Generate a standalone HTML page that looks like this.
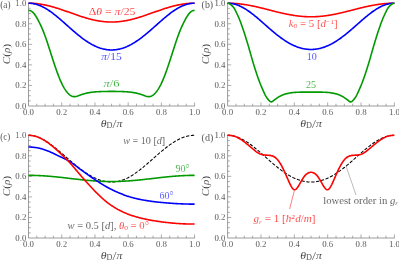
<!DOCTYPE html>
<html><head><meta charset="utf-8"><title>plot</title>
<style>
html,body{margin:0;padding:0;background:#fff;}
svg{display:block;will-change:transform;}
text{font-family:"Liberation Serif",serif;stroke:#fff;stroke-width:0.15px;}
.tk{font-size:8.8px;fill:#1c1c1c;}
.al{font-size:11.2px;fill:#1c1c1c;}
.pl{font-size:9.3px;fill:#1c1c1c;}
.lb{font-size:10px;stroke-width:0.2px;}
.it{font-style:italic;}
.sub{font-size:70%;}
</style></head><body>
<svg width="399" height="261" viewBox="0 0 399 261">
<rect width="399" height="261" fill="#fff"/>
<path d="M28.5,2.9000000000000004 V106.0 H194.9" fill="none" stroke="#7c7c7c" stroke-width="0.75"/>
<path d="M36.80,106.0 v-2.3 M28.5,100.86 h2.3 M45.11,106.0 v-2.3 M28.5,95.72 h2.3 M53.41,106.0 v-2.3 M28.5,90.58 h2.3 M61.72,106.0 v-3.6 M28.5,85.44 h3.6 M70.03,106.0 v-2.3 M28.5,80.30 h2.3 M78.33,106.0 v-2.3 M28.5,75.16 h2.3 M86.63,106.0 v-2.3 M28.5,70.02 h2.3 M94.94,106.0 v-3.6 M28.5,64.88 h3.6 M103.25,106.0 v-2.3 M28.5,59.74 h2.3 M111.55,106.0 v-2.3 M28.5,54.60 h2.3 M119.86,106.0 v-2.3 M28.5,49.46 h2.3 M128.16,106.0 v-3.6 M28.5,44.32 h3.6 M136.47,106.0 v-2.3 M28.5,39.18 h2.3 M144.77,106.0 v-2.3 M28.5,34.04 h2.3 M153.07,106.0 v-2.3 M28.5,28.90 h2.3 M161.38,106.0 v-3.6 M28.5,23.76 h3.6 M169.69,106.0 v-2.3 M28.5,18.62 h2.3 M177.99,106.0 v-2.3 M28.5,13.48 h2.3 M186.29,106.0 v-2.3 M28.5,8.34 h2.3 M194.60,106.0 v-3.6 M28.5,3.20 h3.6 " fill="none" stroke="#7c7c7c" stroke-width="0.62"/>
<text x="28.50" y="115.10" text-anchor="middle" class="tk">0.0</text>
<text x="26.30" y="108.75" text-anchor="end" class="tk">0.0</text>
<text x="61.72" y="115.10" text-anchor="middle" class="tk">0.2</text>
<text x="26.30" y="88.19" text-anchor="end" class="tk">0.2</text>
<text x="94.94" y="115.10" text-anchor="middle" class="tk">0.4</text>
<text x="26.30" y="67.63" text-anchor="end" class="tk">0.4</text>
<text x="128.16" y="115.10" text-anchor="middle" class="tk">0.6</text>
<text x="26.30" y="47.07" text-anchor="end" class="tk">0.6</text>
<text x="161.38" y="115.10" text-anchor="middle" class="tk">0.8</text>
<text x="26.30" y="26.51" text-anchor="end" class="tk">0.8</text>
<text x="194.60" y="115.10" text-anchor="middle" class="tk">1.0</text>
<text x="26.30" y="5.95" text-anchor="end" class="tk">1.0</text>
<text x="111.55" y="126.50" text-anchor="middle" class="al" textLength="21.6" lengthAdjust="spacingAndGlyphs"><tspan class="it">θ</tspan><tspan class="sub" dy="1.6">D</tspan><tspan dy="-0.4" font-size="13.5">/</tspan><tspan dy="-1.2" class="it">π</tspan></text>
<text transform="translate(9.60,54.10) rotate(-90)" text-anchor="middle" class="al"><tspan class="it">C</tspan>(<tspan class="it">ρ</tspan>)</text>
<path d="M28.50,3.20 L29.19,3.20 L29.88,3.21 L30.58,3.23 L31.27,3.25 L31.96,3.28 L32.65,3.32 L33.34,3.36 L34.04,3.41 L34.73,3.46 L35.42,3.52 L36.11,3.59 L36.80,3.66 L37.50,3.74 L38.19,3.82 L38.88,3.92 L39.57,4.01 L40.27,4.12 L40.96,4.23 L41.65,4.34 L42.34,4.46 L43.03,4.59 L43.73,4.72 L44.42,4.85 L45.11,5.00 L45.80,5.14 L46.49,5.30 L47.19,5.45 L47.88,5.62 L48.57,5.78 L49.26,5.96 L49.95,6.13 L50.65,6.31 L51.34,6.50 L52.03,6.69 L52.72,6.88 L53.41,7.08 L54.11,7.28 L54.80,7.48 L55.49,7.69 L56.18,7.90 L56.88,8.12 L57.57,8.34 L58.26,8.56 L58.95,8.78 L59.64,9.01 L60.34,9.24 L61.03,9.47 L61.72,9.70 L62.41,9.93 L63.10,10.17 L63.80,10.41 L64.49,10.65 L65.18,10.89 L65.87,11.13 L66.56,11.38 L67.26,11.62 L67.95,11.87 L68.64,12.11 L69.33,12.36 L70.03,12.61 L70.72,12.85 L71.41,13.10 L72.10,13.34 L72.79,13.59 L73.49,13.83 L74.18,14.08 L74.87,14.32 L75.56,14.56 L76.25,14.80 L76.95,15.04 L77.64,15.28 L78.33,15.51 L79.02,15.75 L79.71,15.98 L80.41,16.21 L81.10,16.43 L81.79,16.66 L82.48,16.88 L83.17,17.09 L83.87,17.31 L84.56,17.52 L85.25,17.73 L85.94,17.93 L86.63,18.14 L87.33,18.33 L88.02,18.53 L88.71,18.72 L89.40,18.90 L90.10,19.08 L90.79,19.26 L91.48,19.43 L92.17,19.60 L92.86,19.76 L93.56,19.92 L94.25,20.07 L94.94,20.22 L95.63,20.36 L96.32,20.49 L97.02,20.63 L97.71,20.75 L98.40,20.87 L99.09,20.99 L99.78,21.10 L100.48,21.20 L101.17,21.30 L101.86,21.39 L102.55,21.47 L103.25,21.55 L103.94,21.63 L104.63,21.69 L105.32,21.75 L106.01,21.81 L106.71,21.85 L107.40,21.90 L108.09,21.93 L108.78,21.96 L109.47,21.98 L110.17,22.00 L110.86,22.01 L111.55,22.01 L112.24,22.01 L112.93,22.00 L113.63,21.98 L114.32,21.96 L115.01,21.93 L115.70,21.90 L116.39,21.85 L117.09,21.81 L117.78,21.75 L118.47,21.69 L119.16,21.63 L119.86,21.55 L120.55,21.47 L121.24,21.39 L121.93,21.30 L122.62,21.20 L123.32,21.10 L124.01,20.99 L124.70,20.87 L125.39,20.75 L126.08,20.63 L126.78,20.49 L127.47,20.36 L128.16,20.22 L128.85,20.07 L129.54,19.92 L130.24,19.76 L130.93,19.60 L131.62,19.43 L132.31,19.26 L133.00,19.08 L133.70,18.90 L134.39,18.72 L135.08,18.53 L135.77,18.33 L136.47,18.14 L137.16,17.93 L137.85,17.73 L138.54,17.52 L139.23,17.31 L139.93,17.09 L140.62,16.88 L141.31,16.66 L142.00,16.43 L142.69,16.21 L143.39,15.98 L144.08,15.75 L144.77,15.51 L145.46,15.28 L146.15,15.04 L146.85,14.80 L147.54,14.56 L148.23,14.32 L148.92,14.08 L149.61,13.83 L150.31,13.59 L151.00,13.34 L151.69,13.10 L152.38,12.85 L153.07,12.61 L153.77,12.36 L154.46,12.11 L155.15,11.87 L155.84,11.62 L156.54,11.38 L157.23,11.13 L157.92,10.89 L158.61,10.65 L159.30,10.41 L160.00,10.17 L160.69,9.93 L161.38,9.70 L162.07,9.47 L162.76,9.24 L163.46,9.01 L164.15,8.78 L164.84,8.56 L165.53,8.34 L166.22,8.12 L166.92,7.90 L167.61,7.69 L168.30,7.48 L168.99,7.28 L169.69,7.08 L170.38,6.88 L171.07,6.69 L171.76,6.50 L172.45,6.31 L173.15,6.13 L173.84,5.96 L174.53,5.78 L175.22,5.62 L175.91,5.45 L176.61,5.30 L177.30,5.14 L177.99,5.00 L178.68,4.85 L179.37,4.72 L180.07,4.59 L180.76,4.46 L181.45,4.34 L182.14,4.23 L182.83,4.12 L183.53,4.01 L184.22,3.92 L184.91,3.82 L185.60,3.74 L186.29,3.66 L186.99,3.59 L187.68,3.52 L188.37,3.46 L189.06,3.41 L189.76,3.36 L190.45,3.32 L191.14,3.28 L191.83,3.25 L192.52,3.23 L193.22,3.21 L193.91,3.20 L194.60,3.20" fill="none" stroke="#ff0000" stroke-width="1.6" stroke-linejoin="round" stroke-linecap="butt"/>
<path d="M28.50,3.20 L29.19,3.21 L29.88,3.24 L30.58,3.28 L31.27,3.34 L31.96,3.42 L32.65,3.52 L33.34,3.64 L34.04,3.77 L34.73,3.92 L35.42,4.09 L36.11,4.28 L36.80,4.48 L37.50,4.70 L38.19,4.93 L38.88,5.19 L39.57,5.45 L40.27,5.74 L40.96,6.04 L41.65,6.35 L42.34,6.68 L43.03,7.03 L43.73,7.39 L44.42,7.76 L45.11,8.15 L45.80,8.55 L46.49,8.97 L47.19,9.40 L47.88,9.84 L48.57,10.29 L49.26,10.75 L49.95,11.23 L50.65,11.71 L51.34,12.21 L52.03,12.72 L52.72,13.23 L53.41,13.76 L54.11,14.29 L54.80,14.84 L55.49,15.39 L56.18,15.95 L56.88,16.51 L57.57,17.08 L58.26,17.66 L58.95,18.25 L59.64,18.83 L60.34,19.43 L61.03,20.03 L61.72,20.63 L62.41,21.23 L63.10,21.84 L63.80,22.45 L64.49,23.07 L65.18,23.68 L65.87,24.30 L66.56,24.91 L67.26,25.53 L67.95,26.15 L68.64,26.76 L69.33,27.38 L70.03,27.99 L70.72,28.60 L71.41,29.21 L72.10,29.82 L72.79,30.42 L73.49,31.02 L74.18,31.61 L74.87,32.21 L75.56,32.79 L76.25,33.37 L76.95,33.95 L77.64,34.52 L78.33,35.08 L79.02,35.64 L79.71,36.19 L80.41,36.73 L81.10,37.27 L81.79,37.80 L82.48,38.32 L83.17,38.83 L83.87,39.33 L84.56,39.83 L85.25,40.31 L85.94,40.79 L86.63,41.25 L87.33,41.71 L88.02,42.15 L88.71,42.59 L89.40,43.01 L90.10,43.42 L90.79,43.83 L91.48,44.22 L92.17,44.60 L92.86,44.96 L93.56,45.32 L94.25,45.66 L94.94,45.99 L95.63,46.31 L96.32,46.62 L97.02,46.91 L97.71,47.19 L98.40,47.46 L99.09,47.71 L99.78,47.96 L100.48,48.18 L101.17,48.40 L101.86,48.60 L102.55,48.79 L103.25,48.96 L103.94,49.12 L104.63,49.27 L105.32,49.40 L106.01,49.52 L106.71,49.63 L107.40,49.72 L108.09,49.80 L108.78,49.86 L109.47,49.91 L110.17,49.95 L110.86,49.97 L111.55,49.97 L112.24,49.97 L112.93,49.95 L113.63,49.91 L114.32,49.86 L115.01,49.80 L115.70,49.72 L116.39,49.63 L117.09,49.52 L117.78,49.40 L118.47,49.27 L119.16,49.12 L119.86,48.96 L120.55,48.79 L121.24,48.60 L121.93,48.40 L122.62,48.18 L123.32,47.96 L124.01,47.71 L124.70,47.46 L125.39,47.19 L126.08,46.91 L126.78,46.62 L127.47,46.31 L128.16,45.99 L128.85,45.66 L129.54,45.32 L130.24,44.96 L130.93,44.60 L131.62,44.22 L132.31,43.83 L133.00,43.42 L133.70,43.01 L134.39,42.59 L135.08,42.15 L135.77,41.71 L136.47,41.25 L137.16,40.79 L137.85,40.31 L138.54,39.83 L139.23,39.33 L139.93,38.83 L140.62,38.32 L141.31,37.80 L142.00,37.27 L142.69,36.73 L143.39,36.19 L144.08,35.64 L144.77,35.08 L145.46,34.52 L146.15,33.95 L146.85,33.37 L147.54,32.79 L148.23,32.21 L148.92,31.61 L149.61,31.02 L150.31,30.42 L151.00,29.82 L151.69,29.21 L152.38,28.60 L153.07,27.99 L153.77,27.38 L154.46,26.76 L155.15,26.15 L155.84,25.53 L156.54,24.91 L157.23,24.30 L157.92,23.68 L158.61,23.07 L159.30,22.45 L160.00,21.84 L160.69,21.23 L161.38,20.63 L162.07,20.03 L162.76,19.43 L163.46,18.83 L164.15,18.25 L164.84,17.66 L165.53,17.08 L166.22,16.51 L166.92,15.95 L167.61,15.39 L168.30,14.84 L168.99,14.29 L169.69,13.76 L170.38,13.23 L171.07,12.72 L171.76,12.21 L172.45,11.71 L173.15,11.23 L173.84,10.75 L174.53,10.29 L175.22,9.84 L175.91,9.40 L176.61,8.97 L177.30,8.55 L177.99,8.15 L178.68,7.76 L179.37,7.39 L180.07,7.03 L180.76,6.68 L181.45,6.35 L182.14,6.04 L182.83,5.74 L183.53,5.45 L184.22,5.19 L184.91,4.93 L185.60,4.70 L186.29,4.48 L186.99,4.28 L187.68,4.09 L188.37,3.92 L189.06,3.77 L189.76,3.64 L190.45,3.52 L191.14,3.42 L191.83,3.34 L192.52,3.28 L193.22,3.24 L193.91,3.21 L194.60,3.20" fill="none" stroke="#0000ff" stroke-width="1.6" stroke-linejoin="round" stroke-linecap="butt"/>
<path d="M28.50,10.40 L29.19,10.44 L29.88,10.58 L30.58,10.82 L31.27,11.15 L31.96,11.60 L32.65,12.15 L33.34,12.82 L34.04,13.60 L34.73,14.50 L35.42,15.50 L36.11,16.58 L36.80,17.75 L37.50,18.99 L38.19,20.28 L38.88,21.62 L39.57,23.00 L40.27,24.42 L40.96,25.89 L41.65,27.41 L42.34,28.99 L43.03,30.65 L43.73,32.38 L44.42,34.19 L45.11,36.07 L45.80,38.02 L46.49,40.03 L47.19,42.08 L47.88,44.17 L48.57,46.29 L49.26,48.43 L49.95,50.59 L50.65,52.76 L51.34,54.93 L52.03,57.09 L52.72,59.24 L53.41,61.37 L54.11,63.47 L54.80,65.54 L55.49,67.57 L56.18,69.55 L56.88,71.49 L57.57,73.38 L58.26,75.21 L58.95,76.98 L59.64,78.68 L60.34,80.32 L61.03,81.89 L61.72,83.38 L62.41,84.80 L63.10,86.13 L63.80,87.39 L64.49,88.56 L65.18,89.65 L65.87,90.67 L66.56,91.61 L67.26,92.46 L67.95,93.24 L68.64,93.93 L69.33,94.55 L70.03,95.09 L70.72,95.54 L71.41,95.92 L72.10,96.22 L72.79,96.44 L73.49,96.59 L74.18,96.65 L74.87,96.65 L75.56,96.57 L76.25,96.44 L76.95,96.27 L77.64,96.06 L78.33,95.82 L79.02,95.57 L79.71,95.31 L80.41,95.05 L81.10,94.80 L81.79,94.56 L82.48,94.33 L83.17,94.11 L83.87,93.89 L84.56,93.69 L85.25,93.50 L85.94,93.32 L86.63,93.15 L87.33,92.99 L88.02,92.85 L88.71,92.72 L89.40,92.59 L90.10,92.48 L90.79,92.38 L91.48,92.28 L92.17,92.19 L92.86,92.11 L93.56,92.04 L94.25,91.98 L94.94,91.92 L95.63,91.86 L96.32,91.81 L97.02,91.76 L97.71,91.72 L98.40,91.69 L99.09,91.65 L99.78,91.62 L100.48,91.59 L101.17,91.57 L101.86,91.54 L102.55,91.52 L103.25,91.51 L103.94,91.49 L104.63,91.47 L105.32,91.46 L106.01,91.45 L106.71,91.44 L107.40,91.43 L108.09,91.42 L108.78,91.41 L109.47,91.41 L110.17,91.41 L110.86,91.40 L111.55,91.40 L112.24,91.40 L112.93,91.41 L113.63,91.41 L114.32,91.41 L115.01,91.42 L115.70,91.43 L116.39,91.44 L117.09,91.45 L117.78,91.46 L118.47,91.47 L119.16,91.49 L119.86,91.51 L120.55,91.52 L121.24,91.54 L121.93,91.57 L122.62,91.59 L123.32,91.62 L124.01,91.65 L124.70,91.69 L125.39,91.72 L126.08,91.76 L126.78,91.81 L127.47,91.86 L128.16,91.92 L128.85,91.98 L129.54,92.04 L130.24,92.11 L130.93,92.19 L131.62,92.28 L132.31,92.38 L133.00,92.48 L133.70,92.59 L134.39,92.72 L135.08,92.85 L135.77,92.99 L136.47,93.15 L137.16,93.32 L137.85,93.50 L138.54,93.69 L139.23,93.89 L139.93,94.11 L140.62,94.33 L141.31,94.56 L142.00,94.80 L142.69,95.05 L143.39,95.31 L144.08,95.57 L144.77,95.82 L145.46,96.06 L146.15,96.27 L146.85,96.44 L147.54,96.57 L148.23,96.65 L148.92,96.65 L149.61,96.59 L150.31,96.44 L151.00,96.22 L151.69,95.92 L152.38,95.54 L153.07,95.09 L153.77,94.55 L154.46,93.93 L155.15,93.24 L155.84,92.46 L156.54,91.61 L157.23,90.67 L157.92,89.65 L158.61,88.56 L159.30,87.39 L160.00,86.13 L160.69,84.80 L161.38,83.38 L162.07,81.89 L162.76,80.32 L163.46,78.68 L164.15,76.98 L164.84,75.21 L165.53,73.38 L166.22,71.49 L166.92,69.55 L167.61,67.57 L168.30,65.54 L168.99,63.47 L169.69,61.37 L170.38,59.24 L171.07,57.09 L171.76,54.93 L172.45,52.76 L173.15,50.59 L173.84,48.43 L174.53,46.29 L175.22,44.17 L175.91,42.08 L176.61,40.03 L177.30,38.02 L177.99,36.07 L178.68,34.19 L179.37,32.38 L180.07,30.65 L180.76,28.99 L181.45,27.41 L182.14,25.89 L182.83,24.42 L183.53,23.00 L184.22,21.62 L184.91,20.28 L185.60,18.99 L186.29,17.75 L186.99,16.58 L187.68,15.50 L188.37,14.50 L189.06,13.60 L189.76,12.82 L190.45,12.15 L191.14,11.60 L191.83,11.15 L192.52,10.82 L193.22,10.58 L193.91,10.44 L194.60,10.40" fill="none" stroke="#009a00" stroke-width="1.6" stroke-linejoin="round" stroke-linecap="butt"/>
<text x="0.3" y="8.3" class="pl" textLength="10.2" lengthAdjust="spacingAndGlyphs">(a)</text>
<text x="88.7" y="15.3" textLength="46.8" lengthAdjust="spacingAndGlyphs" class="lb" fill="#ff0000">Δ<tspan class="it">θ</tspan> = <tspan class="it">π</tspan>/25</text>
<text x="101.3" y="60.3" textLength="20.5" lengthAdjust="spacingAndGlyphs" class="lb" fill="#0000ff"><tspan class="it">π</tspan>/15</text>
<text x="103.6" y="86.6" textLength="15.9" lengthAdjust="spacingAndGlyphs" class="lb" fill="#009a00"><tspan class="it">π</tspan>/6</text>
<path d="M227.6,2.9000000000000004 V106.0 H394.7" fill="none" stroke="#7c7c7c" stroke-width="0.75"/>
<path d="M235.94,106.0 v-2.3 M227.6,100.86 h2.3 M244.28,106.0 v-2.3 M227.6,95.72 h2.3 M252.62,106.0 v-2.3 M227.6,90.58 h2.3 M260.96,106.0 v-3.6 M227.6,85.44 h3.6 M269.30,106.0 v-2.3 M227.6,80.30 h2.3 M277.64,106.0 v-2.3 M227.6,75.16 h2.3 M285.98,106.0 v-2.3 M227.6,70.02 h2.3 M294.32,106.0 v-3.6 M227.6,64.88 h3.6 M302.66,106.0 v-2.3 M227.6,59.74 h2.3 M311.00,106.0 v-2.3 M227.6,54.60 h2.3 M319.34,106.0 v-2.3 M227.6,49.46 h2.3 M327.68,106.0 v-3.6 M227.6,44.32 h3.6 M336.02,106.0 v-2.3 M227.6,39.18 h2.3 M344.36,106.0 v-2.3 M227.6,34.04 h2.3 M352.70,106.0 v-2.3 M227.6,28.90 h2.3 M361.04,106.0 v-3.6 M227.6,23.76 h3.6 M369.38,106.0 v-2.3 M227.6,18.62 h2.3 M377.72,106.0 v-2.3 M227.6,13.48 h2.3 M386.06,106.0 v-2.3 M227.6,8.34 h2.3 M394.40,106.0 v-3.6 M227.6,3.20 h3.6 " fill="none" stroke="#7c7c7c" stroke-width="0.62"/>
<text x="227.60" y="115.10" text-anchor="middle" class="tk">0.0</text>
<text x="225.40" y="108.75" text-anchor="end" class="tk">0.0</text>
<text x="260.96" y="115.10" text-anchor="middle" class="tk">0.2</text>
<text x="225.40" y="88.19" text-anchor="end" class="tk">0.2</text>
<text x="294.32" y="115.10" text-anchor="middle" class="tk">0.4</text>
<text x="225.40" y="67.63" text-anchor="end" class="tk">0.4</text>
<text x="327.68" y="115.10" text-anchor="middle" class="tk">0.6</text>
<text x="225.40" y="47.07" text-anchor="end" class="tk">0.6</text>
<text x="361.04" y="115.10" text-anchor="middle" class="tk">0.8</text>
<text x="225.40" y="26.51" text-anchor="end" class="tk">0.8</text>
<text x="394.40" y="115.10" text-anchor="middle" class="tk">1.0</text>
<text x="225.40" y="5.95" text-anchor="end" class="tk">1.0</text>
<text x="311.00" y="126.50" text-anchor="middle" class="al" textLength="21.6" lengthAdjust="spacingAndGlyphs"><tspan class="it">θ</tspan><tspan class="sub" dy="1.6">D</tspan><tspan dy="-0.4" font-size="13.5">/</tspan><tspan dy="-1.2" class="it">π</tspan></text>
<text transform="translate(208.70,54.10) rotate(-90)" text-anchor="middle" class="al"><tspan class="it">C</tspan>(<tspan class="it">ρ</tspan>)</text>
<path d="M227.60,3.20 L228.29,3.20 L228.99,3.21 L229.69,3.22 L230.38,3.24 L231.07,3.26 L231.77,3.28 L232.47,3.31 L233.16,3.35 L233.85,3.39 L234.55,3.43 L235.25,3.48 L235.94,3.53 L236.63,3.59 L237.33,3.65 L238.03,3.72 L238.72,3.79 L239.41,3.86 L240.11,3.94 L240.81,4.02 L241.50,4.11 L242.19,4.20 L242.89,4.29 L243.58,4.39 L244.28,4.50 L244.97,4.60 L245.67,4.71 L246.36,4.83 L247.06,4.94 L247.75,5.06 L248.45,5.19 L249.14,5.31 L249.84,5.44 L250.53,5.58 L251.23,5.71 L251.92,5.85 L252.62,6.00 L253.31,6.14 L254.01,6.29 L254.70,6.44 L255.40,6.59 L256.09,6.75 L256.79,6.90 L257.49,7.06 L258.18,7.23 L258.88,7.39 L259.57,7.55 L260.26,7.72 L260.96,7.89 L261.65,8.06 L262.35,8.23 L263.04,8.40 L263.74,8.57 L264.44,8.75 L265.13,8.92 L265.82,9.10 L266.52,9.28 L267.21,9.45 L267.91,9.63 L268.61,9.81 L269.30,9.98 L270.00,10.16 L270.69,10.34 L271.38,10.52 L272.08,10.69 L272.77,10.87 L273.47,11.05 L274.16,11.22 L274.86,11.40 L275.56,11.57 L276.25,11.74 L276.94,11.91 L277.64,12.08 L278.33,12.25 L279.03,12.42 L279.72,12.58 L280.42,12.74 L281.12,12.91 L281.81,13.07 L282.50,13.22 L283.20,13.38 L283.89,13.53 L284.59,13.68 L285.28,13.83 L285.98,13.97 L286.68,14.12 L287.37,14.25 L288.06,14.39 L288.76,14.52 L289.45,14.66 L290.15,14.78 L290.84,14.91 L291.54,15.03 L292.24,15.14 L292.93,15.26 L293.62,15.37 L294.32,15.47 L295.01,15.58 L295.71,15.68 L296.40,15.77 L297.10,15.86 L297.79,15.95 L298.49,16.03 L299.19,16.11 L299.88,16.18 L300.57,16.25 L301.27,16.32 L301.96,16.38 L302.66,16.44 L303.36,16.49 L304.05,16.54 L304.75,16.58 L305.44,16.62 L306.13,16.66 L306.83,16.69 L307.52,16.71 L308.22,16.73 L308.91,16.75 L309.61,16.76 L310.31,16.77 L311.00,16.77 L311.69,16.77 L312.39,16.76 L313.08,16.75 L313.78,16.73 L314.48,16.71 L315.17,16.69 L315.87,16.66 L316.56,16.62 L317.25,16.58 L317.95,16.54 L318.64,16.49 L319.34,16.44 L320.03,16.38 L320.73,16.32 L321.42,16.25 L322.12,16.18 L322.81,16.11 L323.51,16.03 L324.20,15.95 L324.90,15.86 L325.59,15.77 L326.29,15.68 L326.99,15.58 L327.68,15.47 L328.38,15.37 L329.07,15.26 L329.76,15.14 L330.46,15.03 L331.15,14.91 L331.85,14.78 L332.54,14.66 L333.24,14.52 L333.93,14.39 L334.63,14.25 L335.32,14.12 L336.02,13.97 L336.71,13.83 L337.41,13.68 L338.10,13.53 L338.80,13.38 L339.50,13.22 L340.19,13.07 L340.88,12.91 L341.58,12.74 L342.27,12.58 L342.97,12.42 L343.66,12.25 L344.36,12.08 L345.05,11.91 L345.75,11.74 L346.44,11.57 L347.14,11.40 L347.83,11.22 L348.53,11.05 L349.22,10.87 L349.92,10.69 L350.62,10.52 L351.31,10.34 L352.00,10.16 L352.70,9.98 L353.39,9.81 L354.09,9.63 L354.78,9.45 L355.48,9.28 L356.17,9.10 L356.87,8.92 L357.56,8.75 L358.26,8.57 L358.95,8.40 L359.65,8.23 L360.34,8.06 L361.04,7.89 L361.74,7.72 L362.43,7.55 L363.12,7.39 L363.82,7.23 L364.51,7.06 L365.21,6.90 L365.90,6.75 L366.60,6.59 L367.29,6.44 L367.99,6.29 L368.68,6.14 L369.38,6.00 L370.07,5.85 L370.77,5.71 L371.46,5.58 L372.16,5.44 L372.86,5.31 L373.55,5.19 L374.25,5.06 L374.94,4.94 L375.63,4.83 L376.33,4.71 L377.02,4.60 L377.72,4.50 L378.41,4.39 L379.11,4.29 L379.80,4.20 L380.50,4.11 L381.19,4.02 L381.89,3.94 L382.58,3.86 L383.28,3.79 L383.97,3.72 L384.67,3.65 L385.37,3.59 L386.06,3.53 L386.75,3.48 L387.45,3.43 L388.14,3.39 L388.84,3.35 L389.53,3.31 L390.23,3.28 L390.92,3.26 L391.62,3.24 L392.31,3.22 L393.01,3.21 L393.70,3.20 L394.40,3.20" fill="none" stroke="#ff0000" stroke-width="1.6" stroke-linejoin="round" stroke-linecap="butt"/>
<path d="M227.60,3.20 L228.29,3.21 L228.99,3.24 L229.69,3.28 L230.38,3.35 L231.07,3.43 L231.77,3.54 L232.47,3.66 L233.16,3.80 L233.85,3.95 L234.55,4.13 L235.25,4.32 L235.94,4.53 L236.63,4.76 L237.33,5.00 L238.03,5.27 L238.72,5.54 L239.41,5.84 L240.11,6.15 L240.81,6.48 L241.50,6.82 L242.19,7.18 L242.89,7.55 L243.58,7.94 L244.28,8.34 L244.97,8.75 L245.67,9.18 L246.36,9.62 L247.06,10.07 L247.75,10.54 L248.45,11.02 L249.14,11.50 L249.84,12.00 L250.53,12.51 L251.23,13.03 L251.92,13.56 L252.62,14.10 L253.31,14.64 L254.01,15.20 L254.70,15.76 L255.40,16.33 L256.09,16.90 L256.79,17.48 L257.49,18.07 L258.18,18.66 L258.88,19.26 L259.57,19.86 L260.26,20.46 L260.96,21.07 L261.65,21.67 L262.35,22.29 L263.04,22.90 L263.74,23.51 L264.44,24.13 L265.13,24.74 L265.82,25.36 L266.52,25.97 L267.21,26.58 L267.91,27.20 L268.61,27.80 L269.30,28.41 L270.00,29.02 L270.69,29.62 L271.38,30.21 L272.08,30.81 L272.77,31.40 L273.47,31.98 L274.16,32.56 L274.86,33.13 L275.56,33.70 L276.25,34.26 L276.94,34.81 L277.64,35.36 L278.33,35.90 L279.03,36.43 L279.72,36.96 L280.42,37.48 L281.12,37.98 L281.81,38.48 L282.50,38.97 L283.20,39.46 L283.89,39.93 L284.59,40.39 L285.28,40.84 L285.98,41.29 L286.68,41.72 L287.37,42.14 L288.06,42.56 L288.76,42.96 L289.45,43.35 L290.15,43.73 L290.84,44.09 L291.54,44.45 L292.24,44.80 L292.93,45.13 L293.62,45.45 L294.32,45.76 L295.01,46.06 L295.71,46.35 L296.40,46.62 L297.10,46.88 L297.79,47.13 L298.49,47.37 L299.19,47.59 L299.88,47.80 L300.57,48.00 L301.27,48.19 L301.96,48.37 L302.66,48.53 L303.36,48.68 L304.05,48.81 L304.75,48.93 L305.44,49.04 L306.13,49.14 L306.83,49.23 L307.52,49.30 L308.22,49.36 L308.91,49.40 L309.61,49.43 L310.31,49.45 L311.00,49.46 L311.69,49.45 L312.39,49.43 L313.08,49.40 L313.78,49.36 L314.48,49.30 L315.17,49.23 L315.87,49.14 L316.56,49.04 L317.25,48.93 L317.95,48.81 L318.64,48.68 L319.34,48.53 L320.03,48.37 L320.73,48.19 L321.42,48.00 L322.12,47.80 L322.81,47.59 L323.51,47.37 L324.20,47.13 L324.90,46.88 L325.59,46.62 L326.29,46.35 L326.99,46.06 L327.68,45.76 L328.38,45.45 L329.07,45.13 L329.76,44.80 L330.46,44.45 L331.15,44.09 L331.85,43.73 L332.54,43.35 L333.24,42.96 L333.93,42.56 L334.63,42.14 L335.32,41.72 L336.02,41.29 L336.71,40.84 L337.41,40.39 L338.10,39.93 L338.80,39.46 L339.50,38.97 L340.19,38.48 L340.88,37.98 L341.58,37.48 L342.27,36.96 L342.97,36.43 L343.66,35.90 L344.36,35.36 L345.05,34.81 L345.75,34.26 L346.44,33.70 L347.14,33.13 L347.83,32.56 L348.53,31.98 L349.22,31.40 L349.92,30.81 L350.62,30.21 L351.31,29.62 L352.00,29.02 L352.70,28.41 L353.39,27.80 L354.09,27.20 L354.78,26.58 L355.48,25.97 L356.17,25.36 L356.87,24.74 L357.56,24.13 L358.26,23.51 L358.95,22.90 L359.65,22.29 L360.34,21.67 L361.04,21.07 L361.74,20.46 L362.43,19.86 L363.12,19.26 L363.82,18.66 L364.51,18.07 L365.21,17.48 L365.90,16.90 L366.60,16.33 L367.29,15.76 L367.99,15.20 L368.68,14.64 L369.38,14.10 L370.07,13.56 L370.77,13.03 L371.46,12.51 L372.16,12.00 L372.86,11.50 L373.55,11.02 L374.25,10.54 L374.94,10.07 L375.63,9.62 L376.33,9.18 L377.02,8.75 L377.72,8.34 L378.41,7.94 L379.11,7.55 L379.80,7.18 L380.50,6.82 L381.19,6.48 L381.89,6.15 L382.58,5.84 L383.28,5.54 L383.97,5.27 L384.67,5.00 L385.37,4.76 L386.06,4.53 L386.75,4.32 L387.45,4.13 L388.14,3.95 L388.84,3.80 L389.53,3.66 L390.23,3.54 L390.92,3.43 L391.62,3.35 L392.31,3.28 L393.01,3.24 L393.70,3.21 L394.40,3.20" fill="none" stroke="#0000ff" stroke-width="1.6" stroke-linejoin="round" stroke-linecap="butt"/>
<path d="M227.60,3.20 L228.29,3.31 L228.99,3.57 L229.69,3.94 L230.38,4.40 L231.07,4.94 L231.77,5.53 L232.47,6.16 L233.16,6.87 L233.85,7.79 L234.55,8.90 L235.25,10.17 L235.94,11.54 L236.63,13.00 L237.33,14.51 L238.03,16.02 L238.72,17.55 L239.41,19.20 L240.11,20.96 L240.81,22.81 L241.50,24.73 L242.19,26.69 L242.89,28.67 L243.58,30.72 L244.28,32.84 L244.97,35.01 L245.67,37.23 L246.36,39.49 L247.06,41.77 L247.75,44.07 L248.45,46.38 L249.14,48.73 L249.84,51.16 L250.53,53.64 L251.23,56.13 L251.92,58.61 L252.62,61.03 L253.31,63.36 L254.01,65.58 L254.70,67.76 L255.40,69.92 L256.09,72.06 L256.79,74.15 L257.49,76.20 L258.18,78.20 L258.88,80.12 L259.57,81.98 L260.26,83.76 L260.96,85.44 L261.65,87.08 L262.35,88.73 L263.04,90.35 L263.74,91.92 L264.44,93.43 L265.13,94.84 L265.82,96.14 L266.52,97.30 L267.21,98.29 L267.91,99.12 L268.61,99.94 L269.30,100.70 L270.00,101.33 L270.69,101.76 L271.38,101.89 L272.08,101.69 L272.77,101.27 L273.47,100.70 L274.16,100.08 L274.86,99.51 L275.56,99.05 L276.25,98.58 L276.94,98.11 L277.64,97.65 L278.33,97.19 L279.03,96.76 L279.72,96.35 L280.42,95.98 L281.12,95.66 L281.81,95.36 L282.50,95.08 L283.20,94.80 L283.89,94.55 L284.59,94.30 L285.28,94.08 L285.98,93.87 L286.68,93.69 L287.37,93.52 L288.06,93.37 L288.76,93.23 L289.45,93.09 L290.15,92.96 L290.84,92.84 L291.54,92.73 L292.24,92.63 L292.93,92.55 L293.62,92.48 L294.32,92.43 L295.01,92.39 L295.71,92.35 L296.40,92.31 L297.10,92.28 L297.79,92.24 L298.49,92.21 L299.19,92.19 L299.88,92.16 L300.57,92.15 L301.27,92.13 L301.96,92.12 L302.66,92.12 L303.36,92.12 L304.05,92.12 L304.75,92.12 L305.44,92.12 L306.13,92.12 L306.83,92.12 L307.52,92.12 L308.22,92.12 L308.91,92.12 L309.61,92.12 L310.31,92.12 L311.00,92.12 L311.69,92.12 L312.39,92.12 L313.08,92.12 L313.78,92.12 L314.48,92.12 L315.17,92.12 L315.87,92.12 L316.56,92.12 L317.25,92.12 L317.95,92.12 L318.64,92.12 L319.34,92.12 L320.03,92.12 L320.73,92.13 L321.42,92.15 L322.12,92.16 L322.81,92.19 L323.51,92.21 L324.20,92.24 L324.90,92.28 L325.59,92.31 L326.29,92.35 L326.99,92.39 L327.68,92.43 L328.38,92.48 L329.07,92.55 L329.76,92.63 L330.46,92.73 L331.15,92.84 L331.85,92.96 L332.54,93.09 L333.24,93.23 L333.93,93.37 L334.63,93.52 L335.32,93.69 L336.02,93.87 L336.71,94.08 L337.41,94.30 L338.10,94.55 L338.80,94.80 L339.50,95.08 L340.19,95.36 L340.88,95.66 L341.58,95.98 L342.27,96.35 L342.97,96.76 L343.66,97.19 L344.36,97.65 L345.05,98.11 L345.75,98.58 L346.44,99.05 L347.14,99.51 L347.83,100.08 L348.53,100.70 L349.22,101.27 L349.92,101.69 L350.62,101.89 L351.31,101.76 L352.00,101.33 L352.70,100.70 L353.39,99.94 L354.09,99.12 L354.78,98.29 L355.48,97.30 L356.17,96.14 L356.87,94.84 L357.56,93.43 L358.26,91.92 L358.95,90.35 L359.65,88.73 L360.34,87.08 L361.04,85.44 L361.74,83.76 L362.43,81.98 L363.12,80.12 L363.82,78.20 L364.51,76.20 L365.21,74.15 L365.90,72.06 L366.60,69.92 L367.29,67.76 L367.99,65.58 L368.68,63.36 L369.38,61.03 L370.07,58.61 L370.77,56.13 L371.46,53.64 L372.16,51.16 L372.86,48.73 L373.55,46.38 L374.25,44.07 L374.94,41.77 L375.63,39.49 L376.33,37.23 L377.02,35.01 L377.72,32.84 L378.41,30.72 L379.11,28.67 L379.80,26.69 L380.50,24.73 L381.19,22.81 L381.89,20.96 L382.58,19.20 L383.28,17.55 L383.97,16.02 L384.67,14.51 L385.37,13.00 L386.06,11.54 L386.75,10.17 L387.45,8.90 L388.14,7.79 L388.84,6.87 L389.53,6.16 L390.23,5.53 L390.92,4.94 L391.62,4.40 L392.31,3.94 L393.01,3.57 L393.70,3.31 L394.40,3.20" fill="none" stroke="#009a00" stroke-width="1.6" stroke-linejoin="round" stroke-linecap="butt"/>
<text x="201.6" y="8.3" class="pl" textLength="11.5" lengthAdjust="spacingAndGlyphs">(b)</text>
<text x="288.7" y="26.8" textLength="48.9" lengthAdjust="spacingAndGlyphs" class="lb" fill="#ff0000"><tspan class="it">k</tspan><tspan class="sub" dy="1.5">0</tspan><tspan dy="-1.5"> = 5 [</tspan><tspan class="it">d</tspan><tspan class="sub" dy="-3.2">−1</tspan><tspan dy="3.2">]</tspan></text>
<text x="311.8" y="59.8" text-anchor="middle" class="lb" fill="#0000ff">10</text>
<text x="311" y="88" text-anchor="middle" class="lb" fill="#009a00">25</text>
<path d="M28.5,135.0 V238.0 H194.9" fill="none" stroke="#7c7c7c" stroke-width="0.75"/>
<path d="M36.80,238.0 v-2.3 M28.5,232.87 h2.3 M45.11,238.0 v-2.3 M28.5,227.73 h2.3 M53.41,238.0 v-2.3 M28.5,222.59 h2.3 M61.72,238.0 v-3.6 M28.5,217.46 h3.6 M70.03,238.0 v-2.3 M28.5,212.32 h2.3 M78.33,238.0 v-2.3 M28.5,207.19 h2.3 M86.63,238.0 v-2.3 M28.5,202.06 h2.3 M94.94,238.0 v-3.6 M28.5,196.92 h3.6 M103.25,238.0 v-2.3 M28.5,191.78 h2.3 M111.55,238.0 v-2.3 M28.5,186.65 h2.3 M119.86,238.0 v-2.3 M28.5,181.51 h2.3 M128.16,238.0 v-3.6 M28.5,176.38 h3.6 M136.47,238.0 v-2.3 M28.5,171.25 h2.3 M144.77,238.0 v-2.3 M28.5,166.11 h2.3 M153.07,238.0 v-2.3 M28.5,160.98 h2.3 M161.38,238.0 v-3.6 M28.5,155.84 h3.6 M169.69,238.0 v-2.3 M28.5,150.71 h2.3 M177.99,238.0 v-2.3 M28.5,145.57 h2.3 M186.29,238.0 v-2.3 M28.5,140.44 h2.3 M194.60,238.0 v-3.6 M28.5,135.30 h3.6 " fill="none" stroke="#7c7c7c" stroke-width="0.62"/>
<text x="28.50" y="247.10" text-anchor="middle" class="tk">0.0</text>
<text x="26.30" y="240.75" text-anchor="end" class="tk">0.0</text>
<text x="61.72" y="247.10" text-anchor="middle" class="tk">0.2</text>
<text x="26.30" y="220.21" text-anchor="end" class="tk">0.2</text>
<text x="94.94" y="247.10" text-anchor="middle" class="tk">0.4</text>
<text x="26.30" y="199.67" text-anchor="end" class="tk">0.4</text>
<text x="128.16" y="247.10" text-anchor="middle" class="tk">0.6</text>
<text x="26.30" y="179.13" text-anchor="end" class="tk">0.6</text>
<text x="161.38" y="247.10" text-anchor="middle" class="tk">0.8</text>
<text x="26.30" y="158.59" text-anchor="end" class="tk">0.8</text>
<text x="194.60" y="247.10" text-anchor="middle" class="tk">1.0</text>
<text x="26.30" y="138.05" text-anchor="end" class="tk">1.0</text>
<text x="111.55" y="258.50" text-anchor="middle" class="al" textLength="21.6" lengthAdjust="spacingAndGlyphs"><tspan class="it">θ</tspan><tspan class="sub" dy="1.6">D</tspan><tspan dy="-0.4" font-size="13.5">/</tspan><tspan dy="-1.2" class="it">π</tspan></text>
<text transform="translate(9.60,186.15) rotate(-90)" text-anchor="middle" class="al"><tspan class="it">C</tspan>(<tspan class="it">ρ</tspan>)</text>
<path d="M28.50,135.30 L29.19,135.31 L29.88,135.34 L30.58,135.39 L31.27,135.46 L31.96,135.55 L32.65,135.66 L33.34,135.78 L34.04,135.93 L34.73,136.10 L35.42,136.28 L36.11,136.48 L36.80,136.70 L37.50,136.94 L38.19,137.19 L38.88,137.47 L39.57,137.75 L40.27,138.06 L40.96,138.38 L41.65,138.72 L42.34,139.07 L43.03,139.44 L43.73,139.82 L44.42,140.21 L45.11,140.62 L45.80,141.04 L46.49,141.48 L47.19,141.92 L47.88,142.38 L48.57,142.85 L49.26,143.33 L49.95,143.82 L50.65,144.32 L51.34,144.83 L52.03,145.35 L52.72,145.88 L53.41,146.41 L54.11,146.96 L54.80,147.51 L55.49,148.06 L56.18,148.62 L56.88,149.19 L57.57,149.77 L58.26,150.35 L58.95,150.93 L59.64,151.51 L60.34,152.10 L61.03,152.70 L61.72,153.29 L62.41,153.89 L63.10,154.49 L63.80,155.09 L64.49,155.69 L65.18,156.29 L65.87,156.90 L66.56,157.50 L67.26,158.10 L67.95,158.70 L68.64,159.30 L69.33,159.89 L70.03,160.49 L70.72,161.08 L71.41,161.67 L72.10,162.26 L72.79,162.84 L73.49,163.42 L74.18,163.99 L74.87,164.56 L75.56,165.13 L76.25,165.69 L76.95,166.24 L77.64,166.79 L78.33,167.34 L79.02,167.87 L79.71,168.41 L80.41,168.93 L81.10,169.45 L81.79,169.96 L82.48,170.46 L83.17,170.95 L83.87,171.44 L84.56,171.92 L85.25,172.39 L85.94,172.85 L86.63,173.31 L87.33,173.75 L88.02,174.18 L88.71,174.61 L89.40,175.02 L90.10,175.43 L90.79,175.82 L91.48,176.21 L92.17,176.58 L92.86,176.95 L93.56,177.30 L94.25,177.64 L94.94,177.97 L95.63,178.29 L96.32,178.59 L97.02,178.89 L97.71,179.17 L98.40,179.44 L99.09,179.70 L99.78,179.95 L100.48,180.18 L101.17,180.40 L101.86,180.60 L102.55,180.80 L103.25,180.98 L103.94,181.14 L104.63,181.29 L105.32,181.43 L106.01,181.56 L106.71,181.67 L107.40,181.76 L108.09,181.84 L108.78,181.91 L109.47,181.96 L110.17,182.00 L110.86,182.02 L111.55,182.03 L112.24,182.02 L112.93,182.00 L113.63,181.96 L114.32,181.91 L115.01,181.84 L115.70,181.76 L116.39,181.66 L117.09,181.54 L117.78,181.41 L118.47,181.27 L119.16,181.11 L119.86,180.93 L120.55,180.74 L121.24,180.54 L121.93,180.32 L122.62,180.08 L123.32,179.83 L124.01,179.56 L124.70,179.28 L125.39,178.99 L126.08,178.68 L126.78,178.36 L127.47,178.02 L128.16,177.67 L128.85,177.30 L129.54,176.92 L130.24,176.53 L130.93,176.13 L131.62,175.71 L132.31,175.28 L133.00,174.83 L133.70,174.38 L134.39,173.91 L135.08,173.43 L135.77,172.94 L136.47,172.45 L137.16,171.94 L137.85,171.42 L138.54,170.89 L139.23,170.35 L139.93,169.81 L140.62,169.27 L141.31,168.72 L142.00,168.17 L142.69,167.61 L143.39,167.04 L144.08,166.46 L144.77,165.88 L145.46,165.30 L146.15,164.71 L146.85,164.12 L147.54,163.52 L148.23,162.92 L148.92,162.32 L149.61,161.71 L150.31,161.11 L151.00,160.50 L151.69,159.89 L152.38,159.28 L153.07,158.66 L153.77,158.05 L154.46,157.44 L155.15,156.83 L155.84,156.22 L156.54,155.61 L157.23,155.01 L157.92,154.41 L158.61,153.81 L159.30,153.21 L160.00,152.62 L160.69,152.03 L161.38,151.44 L162.07,150.87 L162.76,150.29 L163.46,149.72 L164.15,149.16 L164.84,148.61 L165.53,148.06 L166.22,147.52 L166.92,146.98 L167.61,146.46 L168.30,145.94 L168.99,145.43 L169.69,144.93 L170.38,144.44 L171.07,143.96 L171.76,143.49 L172.45,143.03 L173.15,142.58 L173.84,142.14 L174.53,141.72 L175.22,141.30 L175.91,140.90 L176.61,140.51 L177.30,140.13 L177.99,139.76 L178.68,139.41 L179.37,139.07 L180.07,138.74 L180.76,138.43 L181.45,138.13 L182.14,137.85 L182.83,137.58 L183.53,137.32 L184.22,137.08 L184.91,136.85 L185.60,136.64 L186.29,136.44 L186.99,136.26 L187.68,136.10 L188.37,135.95 L189.06,135.81 L189.76,135.69 L190.45,135.59 L191.14,135.50 L191.83,135.43 L192.52,135.37 L193.22,135.33 L193.91,135.31 L194.60,135.30" fill="none" stroke="#000000" stroke-width="1.05" stroke-linejoin="round" stroke-linecap="butt" stroke-dasharray="3.3 1.6"/>
<path d="M28.50,175.35 L29.19,175.35 L29.88,175.36 L30.58,175.36 L31.27,175.37 L31.96,175.38 L32.65,175.39 L33.34,175.40 L34.04,175.42 L34.73,175.44 L35.42,175.46 L36.11,175.48 L36.80,175.50 L37.50,175.53 L38.19,175.56 L38.88,175.59 L39.57,175.62 L40.27,175.65 L40.96,175.69 L41.65,175.73 L42.34,175.77 L43.03,175.81 L43.73,175.85 L44.42,175.89 L45.11,175.94 L45.80,175.99 L46.49,176.04 L47.19,176.09 L47.88,176.14 L48.57,176.20 L49.26,176.26 L49.95,176.31 L50.65,176.37 L51.34,176.43 L52.03,176.50 L52.72,176.56 L53.41,176.62 L54.11,176.69 L54.80,176.76 L55.49,176.82 L56.18,176.89 L56.88,176.96 L57.57,177.04 L58.26,177.11 L58.95,177.18 L59.64,177.25 L60.34,177.33 L61.03,177.41 L61.72,177.48 L62.41,177.56 L63.10,177.64 L63.80,177.71 L64.49,177.79 L65.18,177.87 L65.87,177.95 L66.56,178.03 L67.26,178.11 L67.95,178.19 L68.64,178.27 L69.33,178.35 L70.03,178.43 L70.72,178.51 L71.41,178.60 L72.10,178.68 L72.79,178.76 L73.49,178.84 L74.18,178.92 L74.87,179.00 L75.56,179.07 L76.25,179.15 L76.95,179.23 L77.64,179.31 L78.33,179.39 L79.02,179.46 L79.71,179.54 L80.41,179.61 L81.10,179.69 L81.79,179.76 L82.48,179.83 L83.17,179.90 L83.87,179.97 L84.56,180.04 L85.25,180.11 L85.94,180.18 L86.63,180.24 L87.33,180.31 L88.02,180.37 L88.71,180.43 L89.40,180.50 L90.10,180.55 L90.79,180.61 L91.48,180.67 L92.17,180.72 L92.86,180.78 L93.56,180.83 L94.25,180.88 L94.94,180.93 L95.63,180.97 L96.32,181.02 L97.02,181.06 L97.71,181.10 L98.40,181.14 L99.09,181.18 L99.78,181.21 L100.48,181.25 L101.17,181.28 L101.86,181.31 L102.55,181.34 L103.25,181.36 L103.94,181.39 L104.63,181.41 L105.32,181.43 L106.01,181.45 L106.71,181.46 L107.40,181.48 L108.09,181.49 L108.78,181.50 L109.47,181.51 L110.17,181.51 L110.86,181.51 L111.55,181.52 L112.24,181.51 L112.93,181.51 L113.63,181.51 L114.32,181.50 L115.01,181.49 L115.70,181.48 L116.39,181.46 L117.09,181.45 L117.78,181.43 L118.47,181.41 L119.16,181.39 L119.86,181.36 L120.55,181.34 L121.24,181.31 L121.93,181.28 L122.62,181.25 L123.32,181.21 L124.01,181.18 L124.70,181.14 L125.39,181.10 L126.08,181.06 L126.78,181.02 L127.47,180.97 L128.16,180.93 L128.85,180.88 L129.54,180.83 L130.24,180.78 L130.93,180.72 L131.62,180.67 L132.31,180.61 L133.00,180.55 L133.70,180.50 L134.39,180.43 L135.08,180.37 L135.77,180.31 L136.47,180.24 L137.16,180.18 L137.85,180.11 L138.54,180.04 L139.23,179.97 L139.93,179.90 L140.62,179.83 L141.31,179.76 L142.00,179.69 L142.69,179.61 L143.39,179.54 L144.08,179.46 L144.77,179.39 L145.46,179.31 L146.15,179.23 L146.85,179.15 L147.54,179.07 L148.23,179.00 L148.92,178.92 L149.61,178.84 L150.31,178.76 L151.00,178.68 L151.69,178.60 L152.38,178.51 L153.07,178.43 L153.77,178.35 L154.46,178.27 L155.15,178.19 L155.84,178.11 L156.54,178.03 L157.23,177.95 L157.92,177.87 L158.61,177.79 L159.30,177.71 L160.00,177.64 L160.69,177.56 L161.38,177.48 L162.07,177.41 L162.76,177.33 L163.46,177.25 L164.15,177.18 L164.84,177.11 L165.53,177.04 L166.22,176.96 L166.92,176.89 L167.61,176.82 L168.30,176.76 L168.99,176.69 L169.69,176.62 L170.38,176.56 L171.07,176.50 L171.76,176.43 L172.45,176.37 L173.15,176.31 L173.84,176.26 L174.53,176.20 L175.22,176.14 L175.91,176.09 L176.61,176.04 L177.30,175.99 L177.99,175.94 L178.68,175.89 L179.37,175.85 L180.07,175.81 L180.76,175.77 L181.45,175.73 L182.14,175.69 L182.83,175.65 L183.53,175.62 L184.22,175.59 L184.91,175.56 L185.60,175.53 L186.29,175.50 L186.99,175.48 L187.68,175.46 L188.37,175.44 L189.06,175.42 L189.76,175.40 L190.45,175.39 L191.14,175.38 L191.83,175.37 L192.52,175.36 L193.22,175.36 L193.91,175.35 L194.60,175.35" fill="none" stroke="#009a00" stroke-width="1.6" stroke-linejoin="round" stroke-linecap="butt"/>
<path d="M28.50,147.01 L29.19,147.02 L29.88,147.04 L30.58,147.07 L31.27,147.11 L31.96,147.17 L32.65,147.23 L33.34,147.30 L34.04,147.38 L34.73,147.46 L35.42,147.55 L36.11,147.64 L36.80,147.73 L37.50,147.83 L38.19,147.95 L38.88,148.10 L39.57,148.26 L40.27,148.44 L40.96,148.63 L41.65,148.84 L42.34,149.06 L43.03,149.28 L43.73,149.52 L44.42,149.77 L45.11,150.02 L45.80,150.27 L46.49,150.53 L47.19,150.78 L47.88,151.04 L48.57,151.29 L49.26,151.56 L49.95,151.85 L50.65,152.14 L51.34,152.45 L52.03,152.77 L52.72,153.09 L53.41,153.42 L54.11,153.75 L54.80,154.09 L55.49,154.43 L56.18,154.77 L56.88,155.11 L57.57,155.44 L58.26,155.77 L58.95,156.10 L59.64,156.42 L60.34,156.74 L61.03,157.05 L61.72,157.37 L62.41,157.68 L63.10,158.01 L63.80,158.33 L64.49,158.67 L65.18,159.01 L65.87,159.36 L66.56,159.72 L67.26,160.10 L67.95,160.49 L68.64,160.90 L69.33,161.33 L70.03,161.77 L70.72,162.22 L71.41,162.68 L72.10,163.16 L72.79,163.64 L73.49,164.14 L74.18,164.64 L74.87,165.15 L75.56,165.67 L76.25,166.19 L76.95,166.71 L77.64,167.24 L78.33,167.77 L79.02,168.29 L79.71,168.82 L80.41,169.35 L81.10,169.87 L81.79,170.40 L82.48,170.91 L83.17,171.42 L83.87,171.93 L84.56,172.42 L85.25,172.91 L85.94,173.40 L86.63,173.88 L87.33,174.37 L88.02,174.86 L88.71,175.35 L89.40,175.83 L90.10,176.32 L90.79,176.80 L91.48,177.28 L92.17,177.76 L92.86,178.24 L93.56,178.71 L94.25,179.18 L94.94,179.64 L95.63,180.09 L96.32,180.55 L97.02,180.99 L97.71,181.44 L98.40,181.88 L99.09,182.33 L99.78,182.77 L100.48,183.21 L101.17,183.64 L101.86,184.07 L102.55,184.50 L103.25,184.92 L103.94,185.34 L104.63,185.75 L105.32,186.15 L106.01,186.55 L106.71,186.94 L107.40,187.32 L108.09,187.69 L108.78,188.06 L109.47,188.42 L110.17,188.78 L110.86,189.13 L111.55,189.48 L112.24,189.82 L112.93,190.16 L113.63,190.50 L114.32,190.83 L115.01,191.15 L115.70,191.47 L116.39,191.78 L117.09,192.09 L117.78,192.39 L118.47,192.68 L119.16,192.97 L119.86,193.26 L120.55,193.54 L121.24,193.81 L121.93,194.09 L122.62,194.36 L123.32,194.63 L124.01,194.89 L124.70,195.15 L125.39,195.41 L126.08,195.66 L126.78,195.90 L127.47,196.14 L128.16,196.37 L128.85,196.59 L129.54,196.81 L130.24,197.01 L130.93,197.21 L131.62,197.41 L132.31,197.59 L133.00,197.78 L133.70,197.96 L134.39,198.13 L135.08,198.31 L135.77,198.47 L136.47,198.64 L137.16,198.80 L137.85,198.95 L138.54,199.10 L139.23,199.25 L139.93,199.39 L140.62,199.53 L141.31,199.67 L142.00,199.80 L142.69,199.93 L143.39,200.05 L144.08,200.18 L144.77,200.30 L145.46,200.41 L146.15,200.53 L146.85,200.64 L147.54,200.75 L148.23,200.85 L148.92,200.96 L149.61,201.06 L150.31,201.16 L151.00,201.25 L151.69,201.35 L152.38,201.44 L153.07,201.53 L153.77,201.61 L154.46,201.70 L155.15,201.78 L155.84,201.86 L156.54,201.94 L157.23,202.02 L157.92,202.09 L158.61,202.17 L159.30,202.24 L160.00,202.31 L160.69,202.38 L161.38,202.44 L162.07,202.51 L162.76,202.57 L163.46,202.64 L164.15,202.70 L164.84,202.76 L165.53,202.82 L166.22,202.87 L166.92,202.93 L167.61,202.99 L168.30,203.05 L168.99,203.10 L169.69,203.16 L170.38,203.21 L171.07,203.26 L171.76,203.31 L172.45,203.36 L173.15,203.41 L173.84,203.46 L174.53,203.51 L175.22,203.55 L175.91,203.59 L176.61,203.63 L177.30,203.66 L177.99,203.70 L178.68,203.73 L179.37,203.76 L180.07,203.79 L180.76,203.82 L181.45,203.85 L182.14,203.88 L182.83,203.91 L183.53,203.93 L184.22,203.96 L184.91,203.98 L185.60,204.00 L186.29,204.02 L186.99,204.04 L187.68,204.05 L188.37,204.07 L189.06,204.08 L189.76,204.09 L190.45,204.10 L191.14,204.11 L191.83,204.12 L192.52,204.13 L193.22,204.14 L193.91,204.15 L194.60,204.15" fill="none" stroke="#0000ff" stroke-width="1.6" stroke-linejoin="round" stroke-linecap="butt"/>
<path d="M28.50,135.30 L29.19,135.32 L29.88,135.36 L30.58,135.42 L31.27,135.50 L31.96,135.59 L32.65,135.69 L33.34,135.80 L34.04,135.92 L34.73,136.08 L35.42,136.28 L36.11,136.50 L36.80,136.74 L37.50,137.00 L38.19,137.26 L38.88,137.53 L39.57,137.82 L40.27,138.15 L40.96,138.49 L41.65,138.85 L42.34,139.22 L43.03,139.61 L43.73,140.00 L44.42,140.41 L45.11,140.84 L45.80,141.29 L46.49,141.75 L47.19,142.23 L47.88,142.72 L48.57,143.22 L49.26,143.73 L49.95,144.26 L50.65,144.80 L51.34,145.35 L52.03,145.91 L52.72,146.48 L53.41,147.06 L54.11,147.65 L54.80,148.24 L55.49,148.83 L56.18,149.44 L56.88,150.06 L57.57,150.69 L58.26,151.33 L58.95,151.98 L59.64,152.63 L60.34,153.28 L61.03,153.94 L61.72,154.60 L62.41,155.25 L63.10,155.91 L63.80,156.57 L64.49,157.24 L65.18,157.92 L65.87,158.60 L66.56,159.29 L67.26,160.00 L67.95,160.73 L68.64,161.46 L69.33,162.21 L70.03,162.98 L70.72,163.75 L71.41,164.53 L72.10,165.32 L72.79,166.12 L73.49,166.92 L74.18,167.73 L74.87,168.55 L75.56,169.37 L76.25,170.19 L76.95,171.01 L77.64,171.84 L78.33,172.66 L79.02,173.48 L79.71,174.31 L80.41,175.12 L81.10,175.94 L81.79,176.75 L82.48,177.55 L83.17,178.35 L83.87,179.13 L84.56,179.91 L85.25,180.68 L85.94,181.45 L86.63,182.22 L87.33,182.99 L88.02,183.76 L88.71,184.53 L89.40,185.30 L90.10,186.06 L90.79,186.81 L91.48,187.57 L92.17,188.31 L92.86,189.05 L93.56,189.78 L94.25,190.50 L94.94,191.21 L95.63,191.90 L96.32,192.59 L97.02,193.27 L97.71,193.94 L98.40,194.61 L99.09,195.27 L99.78,195.94 L100.48,196.59 L101.17,197.24 L101.86,197.88 L102.55,198.51 L103.25,199.13 L103.94,199.74 L104.63,200.34 L105.32,200.93 L106.01,201.49 L106.71,202.05 L107.40,202.58 L108.09,203.10 L108.78,203.61 L109.47,204.10 L110.17,204.59 L110.86,205.07 L111.55,205.54 L112.24,206.00 L112.93,206.45 L113.63,206.90 L114.32,207.33 L115.01,207.75 L115.70,208.17 L116.39,208.57 L117.09,208.96 L117.78,209.35 L118.47,209.72 L119.16,210.09 L119.86,210.44 L120.55,210.79 L121.24,211.13 L121.93,211.46 L122.62,211.79 L123.32,212.11 L124.01,212.43 L124.70,212.73 L125.39,213.04 L126.08,213.33 L126.78,213.62 L127.47,213.90 L128.16,214.17 L128.85,214.43 L129.54,214.69 L130.24,214.94 L130.93,215.18 L131.62,215.42 L132.31,215.65 L133.00,215.87 L133.70,216.09 L134.39,216.31 L135.08,216.51 L135.77,216.72 L136.47,216.92 L137.16,217.12 L137.85,217.31 L138.54,217.49 L139.23,217.68 L139.93,217.85 L140.62,218.03 L141.31,218.20 L142.00,218.36 L142.69,218.53 L143.39,218.68 L144.08,218.84 L144.77,218.99 L145.46,219.14 L146.15,219.29 L146.85,219.43 L147.54,219.57 L148.23,219.71 L148.92,219.84 L149.61,219.97 L150.31,220.10 L151.00,220.23 L151.69,220.35 L152.38,220.47 L153.07,220.59 L153.77,220.70 L154.46,220.82 L155.15,220.93 L155.84,221.04 L156.54,221.14 L157.23,221.25 L157.92,221.35 L158.61,221.45 L159.30,221.55 L160.00,221.65 L160.69,221.74 L161.38,221.84 L162.07,221.93 L162.76,222.02 L163.46,222.10 L164.15,222.18 L164.84,222.26 L165.53,222.34 L166.22,222.42 L166.92,222.50 L167.61,222.58 L168.30,222.65 L168.99,222.73 L169.69,222.80 L170.38,222.87 L171.07,222.94 L171.76,223.01 L172.45,223.08 L173.15,223.14 L173.84,223.21 L174.53,223.27 L175.22,223.32 L175.91,223.38 L176.61,223.43 L177.30,223.48 L177.99,223.52 L178.68,223.56 L179.37,223.60 L180.07,223.64 L180.76,223.68 L181.45,223.72 L182.14,223.76 L182.83,223.80 L183.53,223.83 L184.22,223.86 L184.91,223.89 L185.60,223.92 L186.29,223.94 L186.99,223.96 L187.68,223.98 L188.37,223.99 L189.06,224.00 L189.76,224.01 L190.45,224.03 L191.14,224.04 L191.83,224.05 L192.52,224.05 L193.22,224.06 L193.91,224.06 L194.60,224.06" fill="none" stroke="#ff0000" stroke-width="1.6" stroke-linejoin="round" stroke-linecap="butt"/>
<text x="0.3" y="140.4" class="pl" textLength="9.8" lengthAdjust="spacingAndGlyphs">(c)</text>
<text x="123.3" y="144.4" textLength="41.9" lengthAdjust="spacingAndGlyphs" class="lb" fill="#1c1c1c"><tspan class="it">w</tspan> = 10 [<tspan class="it">d</tspan>]</text>
<text x="182.6" y="172.2" text-anchor="middle" class="lb" fill="#009a00">90°</text>
<text x="166.6" y="199" text-anchor="middle" class="lb" fill="#0000ff">60°</text>
<text x="67.5" y="228.7" textLength="48.9" lengthAdjust="spacingAndGlyphs" class="lb" fill="#1c1c1c"><tspan class="it">w</tspan> = 0.5 [<tspan class="it">d</tspan>],</text><text x="118.9" y="228.7" textLength="30.1" lengthAdjust="spacingAndGlyphs" class="lb" fill="#ff0000"><tspan class="it">θ</tspan><tspan class="sub" dy="1.5">0</tspan><tspan dy="-1.5"> = 0°</tspan></text>
<path d="M227.6,135.0 V238.0 H394.7" fill="none" stroke="#7c7c7c" stroke-width="0.75"/>
<path d="M235.94,238.0 v-2.3 M227.6,232.87 h2.3 M244.28,238.0 v-2.3 M227.6,227.73 h2.3 M252.62,238.0 v-2.3 M227.6,222.59 h2.3 M260.96,238.0 v-3.6 M227.6,217.46 h3.6 M269.30,238.0 v-2.3 M227.6,212.32 h2.3 M277.64,238.0 v-2.3 M227.6,207.19 h2.3 M285.98,238.0 v-2.3 M227.6,202.06 h2.3 M294.32,238.0 v-3.6 M227.6,196.92 h3.6 M302.66,238.0 v-2.3 M227.6,191.78 h2.3 M311.00,238.0 v-2.3 M227.6,186.65 h2.3 M319.34,238.0 v-2.3 M227.6,181.51 h2.3 M327.68,238.0 v-3.6 M227.6,176.38 h3.6 M336.02,238.0 v-2.3 M227.6,171.25 h2.3 M344.36,238.0 v-2.3 M227.6,166.11 h2.3 M352.70,238.0 v-2.3 M227.6,160.98 h2.3 M361.04,238.0 v-3.6 M227.6,155.84 h3.6 M369.38,238.0 v-2.3 M227.6,150.71 h2.3 M377.72,238.0 v-2.3 M227.6,145.57 h2.3 M386.06,238.0 v-2.3 M227.6,140.44 h2.3 M394.40,238.0 v-3.6 M227.6,135.30 h3.6 " fill="none" stroke="#7c7c7c" stroke-width="0.62"/>
<text x="227.60" y="247.10" text-anchor="middle" class="tk">0.0</text>
<text x="225.40" y="240.75" text-anchor="end" class="tk">0.0</text>
<text x="260.96" y="247.10" text-anchor="middle" class="tk">0.2</text>
<text x="225.40" y="220.21" text-anchor="end" class="tk">0.2</text>
<text x="294.32" y="247.10" text-anchor="middle" class="tk">0.4</text>
<text x="225.40" y="199.67" text-anchor="end" class="tk">0.4</text>
<text x="327.68" y="247.10" text-anchor="middle" class="tk">0.6</text>
<text x="225.40" y="179.13" text-anchor="end" class="tk">0.6</text>
<text x="361.04" y="247.10" text-anchor="middle" class="tk">0.8</text>
<text x="225.40" y="158.59" text-anchor="end" class="tk">0.8</text>
<text x="394.40" y="247.10" text-anchor="middle" class="tk">1.0</text>
<text x="225.40" y="138.05" text-anchor="end" class="tk">1.0</text>
<text x="311.00" y="258.50" text-anchor="middle" class="al" textLength="21.6" lengthAdjust="spacingAndGlyphs"><tspan class="it">θ</tspan><tspan class="sub" dy="1.6">D</tspan><tspan dy="-0.4" font-size="13.5">/</tspan><tspan dy="-1.2" class="it">π</tspan></text>
<text transform="translate(208.70,186.15) rotate(-90)" text-anchor="middle" class="al"><tspan class="it">C</tspan>(<tspan class="it">ρ</tspan>)</text>
<path d="M227.60,135.30 L228.29,135.31 L228.99,135.34 L229.69,135.38 L230.38,135.45 L231.07,135.53 L231.77,135.63 L232.47,135.75 L233.16,135.89 L233.85,136.04 L234.55,136.21 L235.25,136.40 L235.94,136.61 L236.63,136.84 L237.33,137.08 L238.03,137.34 L238.72,137.61 L239.41,137.90 L240.11,138.21 L240.81,138.53 L241.50,138.87 L242.19,139.22 L242.89,139.59 L243.58,139.97 L244.28,140.37 L244.97,140.78 L245.67,141.20 L246.36,141.64 L247.06,142.09 L247.75,142.55 L248.45,143.02 L249.14,143.50 L249.84,144.00 L250.53,144.50 L251.23,145.02 L251.92,145.54 L252.62,146.08 L253.31,146.62 L254.01,147.17 L254.70,147.73 L255.40,148.30 L256.09,148.87 L256.79,149.45 L257.49,150.03 L258.18,150.62 L258.88,151.22 L259.57,151.82 L260.26,152.42 L260.96,153.03 L261.65,153.64 L262.35,154.25 L263.04,154.87 L263.74,155.48 L264.44,156.10 L265.13,156.72 L265.82,157.34 L266.52,157.96 L267.21,158.57 L267.91,159.19 L268.61,159.80 L269.30,160.42 L270.00,161.03 L270.69,161.63 L271.38,162.24 L272.08,162.84 L272.77,163.44 L273.47,164.03 L274.16,164.62 L274.86,165.20 L275.56,165.78 L276.25,166.35 L276.94,166.91 L277.64,167.47 L278.33,168.02 L279.03,168.56 L279.72,169.10 L280.42,169.63 L281.12,170.15 L281.81,170.66 L282.50,171.17 L283.20,171.66 L283.89,172.15 L284.59,172.62 L285.28,173.09 L285.98,173.54 L286.68,173.99 L287.37,174.43 L288.06,174.85 L288.76,175.27 L289.45,175.67 L290.15,176.06 L290.84,176.44 L291.54,176.81 L292.24,177.17 L292.93,177.52 L293.62,177.85 L294.32,178.17 L295.01,178.48 L295.71,178.78 L296.40,179.06 L297.10,179.34 L297.79,179.60 L298.49,179.84 L299.19,180.08 L299.88,180.30 L300.57,180.51 L301.27,180.70 L301.96,180.88 L302.66,181.05 L303.36,181.21 L304.05,181.35 L304.75,181.48 L305.44,181.59 L306.13,181.70 L306.83,181.78 L307.52,181.86 L308.22,181.92 L308.91,181.97 L309.61,182.00 L310.31,182.02 L311.00,182.03 L311.69,182.02 L312.39,182.00 L313.08,181.97 L313.78,181.92 L314.48,181.86 L315.17,181.78 L315.87,181.70 L316.56,181.59 L317.25,181.48 L317.95,181.35 L318.64,181.21 L319.34,181.05 L320.03,180.88 L320.73,180.70 L321.42,180.51 L322.12,180.30 L322.81,180.08 L323.51,179.84 L324.20,179.60 L324.90,179.34 L325.59,179.06 L326.29,178.78 L326.99,178.48 L327.68,178.17 L328.38,177.85 L329.07,177.52 L329.76,177.17 L330.46,176.81 L331.15,176.44 L331.85,176.06 L332.54,175.67 L333.24,175.27 L333.93,174.85 L334.63,174.43 L335.32,173.99 L336.02,173.54 L336.71,173.09 L337.41,172.62 L338.10,172.15 L338.80,171.66 L339.50,171.17 L340.19,170.66 L340.88,170.15 L341.58,169.63 L342.27,169.10 L342.97,168.56 L343.66,168.02 L344.36,167.47 L345.05,166.91 L345.75,166.35 L346.44,165.78 L347.14,165.20 L347.83,164.62 L348.53,164.03 L349.22,163.44 L349.92,162.84 L350.62,162.24 L351.31,161.63 L352.00,161.03 L352.70,160.42 L353.39,159.80 L354.09,159.19 L354.78,158.57 L355.48,157.96 L356.17,157.34 L356.87,156.72 L357.56,156.10 L358.26,155.48 L358.95,154.87 L359.65,154.25 L360.34,153.64 L361.04,153.03 L361.74,152.42 L362.43,151.82 L363.12,151.22 L363.82,150.62 L364.51,150.03 L365.21,149.45 L365.90,148.87 L366.60,148.30 L367.29,147.73 L367.99,147.17 L368.68,146.62 L369.38,146.08 L370.07,145.54 L370.77,145.02 L371.46,144.50 L372.16,144.00 L372.86,143.50 L373.55,143.02 L374.25,142.55 L374.94,142.09 L375.63,141.64 L376.33,141.20 L377.02,140.78 L377.72,140.37 L378.41,139.97 L379.11,139.59 L379.80,139.22 L380.50,138.87 L381.19,138.53 L381.89,138.21 L382.58,137.90 L383.28,137.61 L383.97,137.34 L384.67,137.08 L385.37,136.84 L386.06,136.61 L386.75,136.40 L387.45,136.21 L388.14,136.04 L388.84,135.89 L389.53,135.75 L390.23,135.63 L390.92,135.53 L391.62,135.45 L392.31,135.38 L393.01,135.34 L393.70,135.31 L394.40,135.30" fill="none" stroke="#000000" stroke-width="1.05" stroke-linejoin="round" stroke-linecap="butt" stroke-dasharray="3.3 1.6"/>
<path d="M227.60,135.30 L228.29,135.31 L228.99,135.34 L229.69,135.38 L230.38,135.45 L231.07,135.54 L231.77,135.65 L232.47,135.79 L233.16,135.95 L233.85,136.13 L234.55,136.34 L235.25,136.58 L235.94,136.84 L236.63,137.13 L237.33,137.45 L238.03,137.80 L238.72,138.17 L239.41,138.56 L240.11,138.98 L240.81,139.42 L241.50,139.87 L242.19,140.35 L242.89,140.84 L243.58,141.35 L244.28,141.87 L244.97,142.41 L245.67,142.96 L246.36,143.51 L247.06,144.08 L247.75,144.65 L248.45,145.23 L249.14,145.82 L249.84,146.40 L250.53,146.99 L251.23,147.58 L251.92,148.17 L252.62,148.75 L253.31,149.33 L254.01,149.90 L254.70,150.46 L255.40,151.01 L256.09,151.53 L256.79,152.03 L257.49,152.50 L258.18,152.94 L258.88,153.34 L259.57,153.71 L260.26,154.03 L260.96,154.30 L261.65,154.52 L262.35,154.70 L263.04,154.84 L263.74,154.94 L264.44,155.02 L265.13,155.08 L265.82,155.12 L266.52,155.16 L267.21,155.19 L267.91,155.22 L268.61,155.27 L269.30,155.33 L270.00,155.41 L270.69,155.52 L271.38,155.67 L272.08,155.86 L272.77,156.11 L273.47,156.41 L274.16,156.78 L274.86,157.23 L275.56,157.76 L276.25,158.36 L276.94,159.05 L277.64,159.81 L278.33,160.67 L279.03,161.60 L279.72,162.63 L280.42,163.73 L281.12,164.92 L281.81,166.18 L282.50,167.51 L283.20,168.90 L283.89,170.35 L284.59,171.85 L285.28,173.40 L285.98,174.97 L286.68,176.57 L287.37,178.16 L288.06,179.75 L288.76,181.32 L289.45,182.84 L290.15,184.31 L290.84,185.69 L291.54,186.93 L292.24,187.99 L292.93,188.84 L293.62,189.44 L294.32,189.73 L295.01,189.70 L295.71,189.38 L296.40,188.81 L297.10,188.03 L297.79,187.07 L298.49,186.00 L299.19,184.83 L299.88,183.63 L300.57,182.41 L301.27,181.19 L301.96,180.00 L302.66,178.84 L303.36,177.76 L304.05,176.75 L304.75,175.85 L305.44,175.06 L306.13,174.38 L306.83,173.80 L307.52,173.32 L308.22,172.93 L308.91,172.64 L309.61,172.43 L310.31,172.31 L311.00,172.27 L311.69,172.31 L312.39,172.43 L313.08,172.64 L313.78,172.93 L314.48,173.32 L315.17,173.80 L315.87,174.38 L316.56,175.06 L317.25,175.85 L317.95,176.75 L318.64,177.76 L319.34,178.84 L320.03,180.00 L320.73,181.19 L321.42,182.41 L322.12,183.63 L322.81,184.83 L323.51,186.00 L324.20,187.07 L324.90,188.03 L325.59,188.81 L326.29,189.38 L326.99,189.70 L327.68,189.73 L328.38,189.44 L329.07,188.84 L329.76,187.99 L330.46,186.93 L331.15,185.69 L331.85,184.31 L332.54,182.84 L333.24,181.32 L333.93,179.75 L334.63,178.16 L335.32,176.57 L336.02,174.97 L336.71,173.40 L337.41,171.85 L338.10,170.35 L338.80,168.90 L339.50,167.51 L340.19,166.18 L340.88,164.92 L341.58,163.73 L342.27,162.63 L342.97,161.60 L343.66,160.67 L344.36,159.81 L345.05,159.05 L345.75,158.36 L346.44,157.76 L347.14,157.23 L347.83,156.78 L348.53,156.41 L349.22,156.11 L349.92,155.86 L350.62,155.67 L351.31,155.52 L352.00,155.41 L352.70,155.33 L353.39,155.27 L354.09,155.22 L354.78,155.19 L355.48,155.16 L356.17,155.12 L356.87,155.08 L357.56,155.02 L358.26,154.94 L358.95,154.84 L359.65,154.70 L360.34,154.52 L361.04,154.30 L361.74,154.03 L362.43,153.71 L363.12,153.34 L363.82,152.94 L364.51,152.50 L365.21,152.03 L365.90,151.53 L366.60,151.01 L367.29,150.46 L367.99,149.90 L368.68,149.33 L369.38,148.75 L370.07,148.17 L370.77,147.58 L371.46,146.99 L372.16,146.40 L372.86,145.82 L373.55,145.23 L374.25,144.65 L374.94,144.08 L375.63,143.51 L376.33,142.96 L377.02,142.41 L377.72,141.87 L378.41,141.35 L379.11,140.84 L379.80,140.35 L380.50,139.87 L381.19,139.42 L381.89,138.98 L382.58,138.56 L383.28,138.17 L383.97,137.80 L384.67,137.45 L385.37,137.13 L386.06,136.84 L386.75,136.58 L387.45,136.34 L388.14,136.13 L388.84,135.95 L389.53,135.79 L390.23,135.65 L390.92,135.54 L391.62,135.45 L392.31,135.38 L393.01,135.34 L393.70,135.31 L394.40,135.30" fill="none" stroke="#ff0000" stroke-width="1.6" stroke-linejoin="round" stroke-linecap="butt"/>
<path d="M294.32,190.76 L289.6,209" stroke="#ff0000" stroke-width="0.5" fill="none"/>
<path d="M346,166 L356,195" stroke="#777" stroke-width="0.5" fill="none"/>
<text x="201.6" y="140.5" class="pl" textLength="11.7" lengthAdjust="spacingAndGlyphs">(d)</text>
<text x="323.2" y="203.6" textLength="75" lengthAdjust="spacingAndGlyphs" class="lb" fill="#1c1c1c">lowest order in <tspan class="it">g</tspan><tspan class="sub it" dy="1.5">r</tspan></text>
<text x="253.4" y="222" textLength="62.1" lengthAdjust="spacingAndGlyphs" class="lb" fill="#ff0000"><tspan class="it">g</tspan><tspan class="sub it" dy="1.5">r</tspan><tspan dy="-1.5"> = 1 [</tspan><tspan class="it">ħ</tspan><tspan class="sub" dy="-3.2">2</tspan><tspan dy="3.2" class="it">d</tspan>/<tspan class="it">m</tspan>]</text>
</svg>
</body></html>
